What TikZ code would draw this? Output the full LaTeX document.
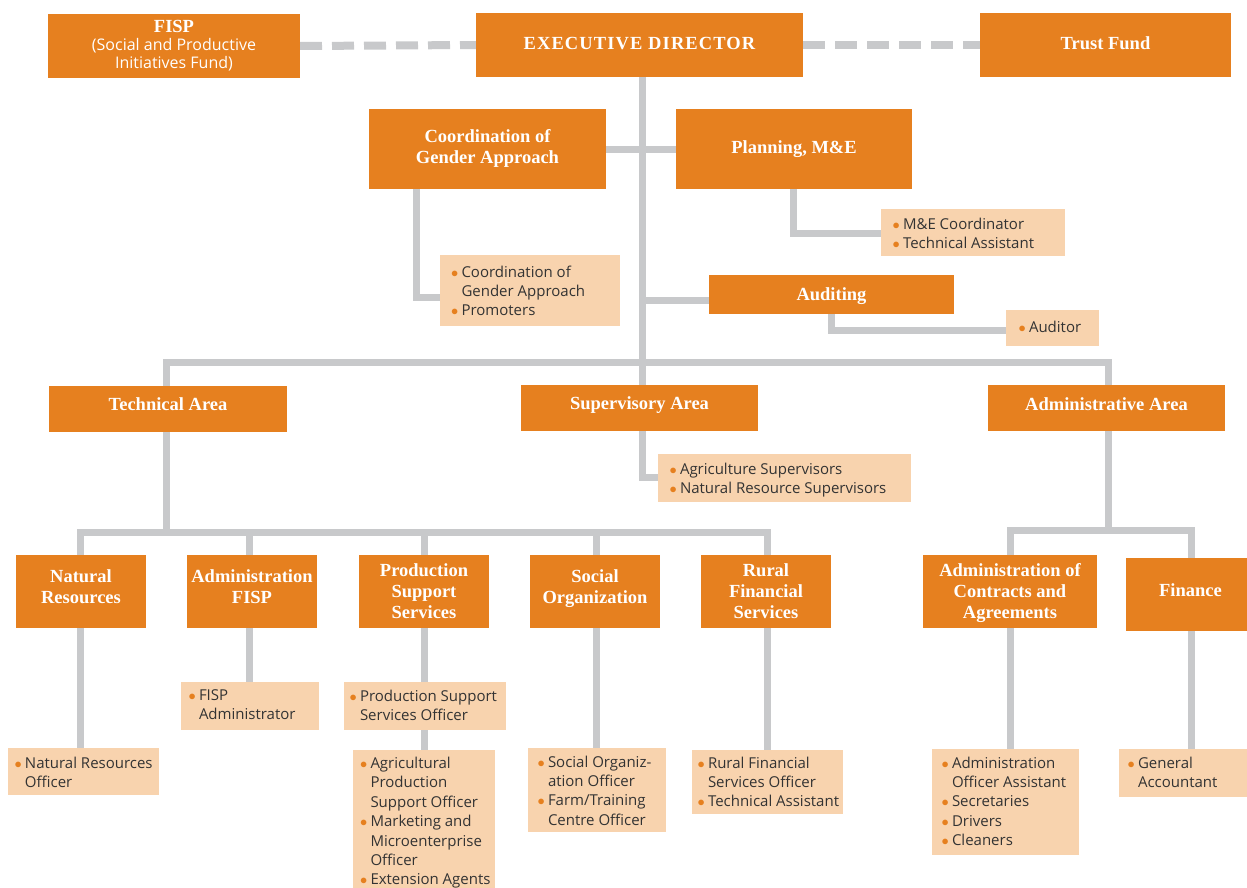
\documentclass[tikz,border=0pt]{standalone}
\usepackage{fontspec}
\setmainfont{Liberation Serif}
\newfontfamily\osans{Open Sans}
\usetikzlibrary{backgrounds}
\definecolor{org}{HTML}{E6801F}
\definecolor{peach}{HTML}{F8D3AE}
\definecolor{lgray}{HTML}{C8C9CB}
\definecolor{txt}{HTML}{333333}
\newcommand\bul{\makebox[9pt][l]{\hspace{-1.5pt}\color{org}$\bullet$}}
\tikzset{
  ob/.style={fill=org, text=white, font=\bfseries\fontsize{18.5}{21}\selectfont, inner sep=0pt, outer sep=0pt},
  lb/.style={fill=peach, inner sep=0pt, outer sep=0pt},
  ltext/.style={text=txt, font=\osans\fontsize{15}{19.4}\selectfont, inner sep=0pt, outer sep=0pt},
  conn/.style={draw=lgray, line width=7pt, line join=miter},
  dashln/.style={draw=lgray, line width=8pt, dash pattern=on 22pt off 10pt}
}
\newcommand\obox[7][0]{\node[ob, minimum width={(#5-#3)*1pt}, minimum height={(#6-#4)*1pt}] (#2) at ({(#3+#5)/2},{(#4+#6)/2})
  {\raisebox{#1pt}[\height][\depth]{\begin{tabular}{@{}c@{}}#7\end{tabular}}};}
\newcommand\lbox[8]{\node[lb, anchor=north west, minimum width={(#4-#2)*1pt}, minimum height={(#5-#3)*1pt}] (#1) at (#2,#3) {};
  \node[ltext, anchor=base west] at (#6,#7) {\begin{tabular}[t]{@{}l@{}l@{}}#8\end{tabular}};}
\begin{document}
\begin{tikzpicture}[x=1pt, y=-1pt]
\useasboundingbox (0,0) rectangle (1247,888);
% top row
\node[ob, align=center, font=\osans\fontsize{16}{18}\selectfont, minimum width=252pt, minimum height=64pt] (fisp) at (174,46)
  {{\rmfamily\bfseries\fontsize{18.5}{18}\selectfont FISP}\\(Social and Productive\\Initiatives Fund)};
\obox[-0.5]{ed}{476}{13}{803}{77}{\addfontfeature{LetterSpace=6}EXECUTIVE DIRECTOR}
\obox{tf}{980}{13}{1231}{77}{Trust Fund}
\obox{cga}{369}{109}{606}{189}{Coordination of\\Gender Approach}
\obox{pme}{676}{109}{912}{189}{Planning, M\&E}
\obox[-1.5]{aud}{709}{275}{954}{314}{Auditing}
\obox[2.5]{tech}{49}{386}{287}{432}{Technical Area}
\obox[2.5]{sup}{521}{385}{758}{431}{Supervisory Area}
\obox[2]{adm}{988}{385}{1225}{431}{Administrative Area}
\obox[2.5]{nr}{16}{555}{146}{628}{Natural\\Resources}
\obox[2.5]{afisp}{187}{555}{317}{628}{Administration\\FISP}
\obox[-1.5]{pss}{359}{555}{489}{628}{Production\\Support\\Services}
\obox[2.5]{soc}{530}{555}{660}{628}{Social\\Organization}
\obox[-1.5]{rfs}{701}{555}{831}{628}{Rural\\Financial\\Services}
\obox[-1.5]{aca}{923}{555}{1097}{628}{Administration of\\Contracts and\\Agreements}
\obox[2]{fin}{1126}{558}{1255}{631}{Finance}
% light boxes
\lbox{cgal}{440}{255}{620}{326}{452.5}{277}{\bul&Coordination of\\&Gender Approach\\\bul&Promoters}
\lbox{mel}{881}{209}{1065}{256}{894}{229.5}{\bul&M\&E Coordinator\\\bul&Technical Assistant}
\lbox{audl}{1006}{310}{1099}{346}{1020}{332}{\bul&Auditor}
\lbox{supl}{658}{454}{911}{502}{671}{474.5}{\bul&Agriculture Supervisors\\\bul&Natural Resource Supervisors}
\lbox{nrl}{8}{748}{159}{795}{16}{768}{\bul&Natural Resources\\&Officer}
\lbox{afl}{181}{682}{319}{730}{190}{700}{\bul&FISP\\&Administrator}
\lbox{pssl}{344}{682}{506}{730}{351}{701.5}{\bul&Production Support\\&Services Officer}
\lbox{agl}{353}{750}{495}{888}{361.5}{768.5}{\bul&Agricultural\\&Production\\&Support Officer\\\bul&Marketing and\\&Microenterprise\\&Officer\\\bul&Extension Agents}
\lbox{socl}{528}{748}{666}{832}{539}{767}{\bul&Social Organiz-\\&ation Officer\\\bul&Farm/Training\\&Centre Officer}
\lbox{rfl}{692}{750}{843}{814}{699}{768}{\bul&Rural Financial\\&Services Officer\\\bul&Technical Assistant}
\lbox{acl}{932}{749}{1079}{855}{943}{768}{\bul&Administration\\&Officer Assistant\\\bul&Secretaries\\\bul&Drivers\\\bul&Cleaners}
\lbox{fal}{1119}{749}{1255}{797}{1129}{768}{\bul&General\\&Accountant}
% coordinates
\coordinate (tk) at (642,362);
\coordinate (bl) at (166,362);
\coordinate (br) at (1108,362);
\coordinate (cgx) at (416,297);
\coordinate (pmx) at (793,233);
\coordinate (auy) at (642,300);
\coordinate (aux) at (831,330);
\coordinate (spx) at (642,477);
\coordinate (tj) at (166,532);
\coordinate (tl) at (80,532);
\coordinate (tr) at (767,532);
\coordinate (c249) at (249,532);
\coordinate (c424) at (424,532);
\coordinate (c596) at (596,532);
\coordinate (aj) at (1108,530);
\coordinate (al) at (1010,530);
\coordinate (ar) at (1191,530);
\begin{scope}[on background layer]
\draw[dashln] (fisp.east) -- (ed.west);
\draw[dashln] (ed.east) -- (tf.west);
\draw[conn] (ed.south -| tk) -- (sup.north -| tk);
\draw[conn] (tech.north -| bl) -- (bl) -- (br) -- (adm.north -| br);
\draw[conn] (cga.east) -- (pme.west);
\draw[conn] (cga.south -| cgx) |- (cgal.west |- cgx);
\draw[conn] (pme.south -| pmx) |- (mel.west |- pmx);
\draw[conn] (auy) -- (aud.west |- auy);
\draw[conn] (aud.south -| aux) |- (audl.west |- aux);
\draw[conn] (sup.south -| spx) |- (supl.west |- spx);
\draw[conn] (tech.south -| tj) -- (tj);
\draw[conn] (nr.north -| tl) -- (tl) -- (tr) -- (rfs.north -| tr);
\draw[conn] (c249) -- (afisp.north -| c249);
\draw[conn] (c424) -- (pss.north -| c424);
\draw[conn] (c596) -- (soc.north -| c596);
\draw[conn] (nr.south -| tl) -- (nrl.north -| tl);
\draw[conn] (afisp.south -| c249) -- (afl.north -| c249);
\draw[conn] (pss.south -| c424) -- (pssl.north -| c424);
\draw[conn] (pssl.south -| c424) -- (agl.north -| c424);
\draw[conn] (soc.south -| c596) -- (socl.north -| c596);
\draw[conn] (rfs.south -| tr) -- (rfl.north -| tr);
\draw[conn] (adm.south -| aj) -- (aj);
\draw[conn] (aca.north -| al) -- (al) -- (ar) -- (fin.north -| ar);
\draw[conn] (aca.south -| al) -- (acl.north -| al);
\draw[conn] (fin.south -| ar) -- (fal.north -| ar);
\end{scope}
\end{tikzpicture}
\end{document}
